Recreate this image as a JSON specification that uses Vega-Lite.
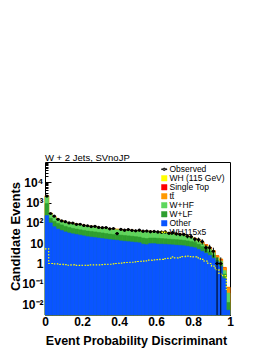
{
"$schema": "https://vega.github.io/schema/vega-lite/v6.json",
"width": 185, "height": 153,
"autosize": "none",
"padding": {"left": 45, "top": 162, "right": 40, "bottom": 34},
"background": "white",
"config": {"view": {"stroke": "black", "strokeWidth": 1}, "font": "Liberation Sans"},
"title": {"text": "W + 2 Jets, SVnoJP", "anchor": "start", "frame": "group", "fontSize": 9.5, "fontWeight": "normal", "baseline": "alphabetic", "offset": 2, "dy": 10, "color": "black", "font": "Liberation Sans"},
"data": {"values": [
{"x0":0,"x1":0.02,"c":0.01,"other":230,"wlf":900,"whf":2068,"tt":2156,"st":2189,"wh":2200,"obs":2100,"lo":2054,"hi":2146,"sig5":5.3},
{"x0":0.02,"x1":0.04,"c":0.03,"other":100,"wlf":170,"whf":282,"tt":294,"st":298.5,"wh":300,"obs":290,"lo":273,"hi":307,"sig5":1.0},
{"x0":0.04,"x1":0.06,"c":0.05,"other":65,"wlf":120,"whf":193,"tt":201,"st":204,"wh":205,"obs":215,"lo":200,"hi":230,"sig5":0.95},
{"x0":0.06,"x1":0.08,"c":0.07,"other":50,"wlf":95,"whf":148,"tt":154,"st":156,"wh":157,"obs":150,"lo":138,"hi":162,"sig5":0.95},
{"x0":0.08,"x1":0.10,"c":0.09,"other":42,"wlf":80,"whf":122,"tt":127,"st":129.4,"wh":130,"obs":125,"lo":114,"hi":136,"sig5":0.9},
{"x0":0.10,"x1":0.12,"c":0.11,"other":36,"wlf":68,"whf":105,"tt":110,"st":111.4,"wh":112,"obs":115,"lo":104,"hi":126,"sig5":0.88},
{"x0":0.12,"x1":0.14,"c":0.13,"other":32,"wlf":60,"whf":98,"tt":102,"st":103.5,"wh":104,"obs":100,"lo":90,"hi":110,"sig5":0.82},
{"x0":0.14,"x1":0.16,"c":0.15,"other":29,"wlf":54,"whf":90,"tt":94,"st":95.5,"wh":96,"obs":98,"lo":88,"hi":108,"sig5":0.85},
{"x0":0.16,"x1":0.18,"c":0.17,"other":27,"wlf":50,"whf":84,"tt":87,"st":88.5,"wh":89,"obs":85,"lo":76,"hi":94,"sig5":0.8},
{"x0":0.18,"x1":0.20,"c":0.19,"other":25,"wlf":46,"whf":78,"tt":81.3,"st":82.6,"wh":83,"obs":86,"lo":77,"hi":95,"sig5":0.8},
{"x0":0.20,"x1":0.22,"c":0.21,"other":23,"wlf":43,"whf":72.4,"tt":75.5,"st":76.6,"wh":77,"obs":75,"lo":66,"hi":84,"sig5":0.82},
{"x0":0.22,"x1":0.24,"c":0.23,"other":21,"wlf":40,"whf":66.7,"tt":69.6,"st":70.6,"wh":71,"obs":72,"lo":63.5,"hi":80.5,"sig5":0.8},
{"x0":0.24,"x1":0.26,"c":0.25,"other":20,"wlf":38,"whf":64.9,"tt":67.6,"st":68.7,"wh":69,"obs":66,"lo":58,"hi":74,"sig5":0.85},
{"x0":0.26,"x1":0.28,"c":0.27,"other":19,"wlf":36,"whf":62,"tt":64.7,"st":65.7,"wh":66,"obs":68,"lo":60,"hi":76,"sig5":0.85},
{"x0":0.28,"x1":0.30,"c":0.29,"other":18,"wlf":34,"whf":57.3,"tt":59.8,"st":60.7,"wh":61,"obs":60,"lo":52.3,"hi":67.7,"sig5":0.85},
{"x0":0.30,"x1":0.32,"c":0.31,"other":17,"wlf":32,"whf":55.5,"tt":57.8,"st":58.7,"wh":59,"obs":58,"lo":50.4,"hi":65.6,"sig5":0.88},
{"x0":0.32,"x1":0.34,"c":0.33,"other":16,"wlf":30,"whf":53.6,"tt":55.9,"st":56.7,"wh":57,"obs":59,"lo":51.3,"hi":66.7,"sig5":0.9},
{"x0":0.34,"x1":0.36,"c":0.35,"other":15,"wlf":28,"whf":48.9,"tt":51,"st":51.7,"wh":52,"obs":51,"lo":43.9,"hi":58.1,"sig5":0.92},
{"x0":0.36,"x1":0.38,"c":0.37,"other":14.5,"wlf":27,"whf":47.9,"tt":50,"st":50.7,"wh":51,"obs":53,"lo":45.7,"hi":60.3,"sig5":0.95},
{"x0":0.38,"x1":0.40,"c":0.39,"other":14,"wlf":26,"whf":46,"tt":48,"st":48.8,"wh":49,"obs":30,"lo":24.5,"hi":35.5,"sig5":1.0},
{"x0":0.40,"x1":0.42,"c":0.41,"other":13,"wlf":25,"whf":44.2,"tt":46,"st":46.8,"wh":47,"obs":48,"lo":41.1,"hi":54.9,"sig5":1.05},
{"x0":0.42,"x1":0.44,"c":0.43,"other":12.5,"wlf":24,"whf":42.3,"tt":44.1,"st":44.8,"wh":45,"obs":44,"lo":37.4,"hi":50.6,"sig5":1.1},
{"x0":0.44,"x1":0.46,"c":0.45,"other":12,"wlf":23,"whf":42.3,"tt":44.1,"st":44.8,"wh":45,"obs":47,"lo":40.1,"hi":53.9,"sig5":1.12},
{"x0":0.46,"x1":0.48,"c":0.47,"other":11.5,"wlf":22,"whf":41.4,"tt":43.1,"st":43.8,"wh":44,"obs":43,"lo":36.4,"hi":49.6,"sig5":1.15},
{"x0":0.48,"x1":0.50,"c":0.49,"other":11,"wlf":21,"whf":39.5,"tt":41.2,"st":41.8,"wh":42,"obs":41,"lo":34.6,"hi":47.4,"sig5":1.2},
{"x0":0.50,"x1":0.52,"c":0.51,"other":10.5,"wlf":20,"whf":39.5,"tt":41.2,"st":41.8,"wh":42,"obs":44,"lo":37.4,"hi":50.6,"sig5":1.25},
{"x0":0.52,"x1":0.54,"c":0.53,"other":9,"wlf":18,"whf":37.6,"tt":39.2,"st":39.8,"wh":40,"obs":39,"lo":32.8,"hi":45.2,"sig5":1.3},
{"x0":0.54,"x1":0.56,"c":0.55,"other":8.5,"wlf":17,"whf":36.7,"tt":38.2,"st":38.8,"wh":39,"obs":40,"lo":33.7,"hi":46.3,"sig5":1.35},
{"x0":0.56,"x1":0.58,"c":0.57,"other":9.5,"wlf":18,"whf":36.7,"tt":38.2,"st":38.8,"wh":39,"obs":37,"lo":30.9,"hi":43.1,"sig5":1.45},
{"x0":0.58,"x1":0.60,"c":0.59,"other":9.5,"wlf":18,"whf":34.8,"tt":36.3,"st":36.8,"wh":37,"obs":38,"lo":31.8,"hi":44.2,"sig5":1.5},
{"x0":0.60,"x1":0.62,"c":0.61,"other":9,"wlf":17.5,"whf":34.8,"tt":36.3,"st":36.8,"wh":37,"obs":36,"lo":30,"hi":42,"sig5":1.55},
{"x0":0.62,"x1":0.64,"c":0.63,"other":9,"wlf":17,"whf":33.8,"tt":35.3,"st":35.8,"wh":36,"obs":35,"lo":29.1,"hi":40.9,"sig5":1.6},
{"x0":0.64,"x1":0.66,"c":0.65,"other":8.8,"wlf":16.5,"whf":32.9,"tt":34.3,"st":34.8,"wh":35,"obs":36,"lo":30,"hi":42,"sig5":1.75},
{"x0":0.66,"x1":0.68,"c":0.67,"other":8.5,"wlf":16,"whf":31,"tt":32.3,"st":32.8,"wh":33,"obs":31,"lo":25.4,"hi":36.6,"sig5":1.8},
{"x0":0.68,"x1":0.70,"c":0.69,"other":8.3,"wlf":15.5,"whf":30.1,"tt":31.4,"st":31.8,"wh":32,"obs":33,"lo":27.3,"hi":38.7,"sig5":2.1},
{"x0":0.70,"x1":0.72,"c":0.71,"other":8,"wlf":15,"whf":28.2,"tt":29.4,"st":29.85,"wh":30,"obs":29,"lo":23.6,"hi":34.4,"sig5":1.9},
{"x0":0.72,"x1":0.74,"c":0.73,"other":7.8,"wlf":14.5,"whf":26.3,"tt":27.4,"st":27.9,"wh":28,"obs":27,"lo":21.8,"hi":32.2,"sig5":2.0},
{"x0":0.74,"x1":0.76,"c":0.75,"other":7.5,"wlf":14,"whf":24.4,"tt":25.5,"st":25.9,"wh":26,"obs":27,"lo":21.8,"hi":32.2,"sig5":2.2},
{"x0":0.76,"x1":0.78,"c":0.77,"other":7,"wlf":13,"whf":21.6,"tt":22.5,"st":22.9,"wh":23,"obs":22,"lo":17.3,"hi":26.7,"sig5":2.3},
{"x0":0.78,"x1":0.80,"c":0.79,"other":6.5,"wlf":12,"whf":19.3,"tt":20.1,"st":20.4,"wh":20.5,"obs":21,"lo":16.4,"hi":25.6,"sig5":2.2},
{"x0":0.80,"x1":0.82,"c":0.81,"other":6,"wlf":11,"whf":15.5,"tt":17,"st":17.3,"wh":17.5,"obs":16,"lo":12,"hi":20,"sig5":2.1},
{"x0":0.82,"x1":0.84,"c":0.83,"other":5,"wlf":9,"whf":12.5,"tt":14.1,"st":14.4,"wh":14.6,"obs":15,"lo":11.1,"hi":18.9,"sig5":1.9},
{"x0":0.84,"x1":0.86,"c":0.85,"other":4,"wlf":6.8,"whf":9.3,"tt":10.8,"st":11.05,"wh":11.2,"obs":12,"lo":8.5,"hi":15.5,"sig5":1.6},
{"x0":0.86,"x1":0.88,"c":0.87,"other":3.2,"wlf":5.2,"whf":7.0,"tt":8.2,"st":8.45,"wh":8.6,"obs":6,"lo":3.6,"hi":8.4,"sig5":1.3},
{"x0":0.88,"x1":0.90,"c":0.89,"other":2.5,"wlf":3.8,"whf":5.0,"tt":6.0,"st":6.25,"wh":6.4,"obs":6,"lo":3.6,"hi":8.4,"sig5":1.0},
{"x0":0.90,"x1":0.92,"c":0.91,"other":1.8,"wlf":2.6,"whf":3.4,"tt":4.1,"st":4.3,"wh":4.4,"obs":4,"lo":2,"hi":6,"sig5":0.75},
{"x0":0.92,"x1":0.94,"c":0.93,"other":1.2,"wlf":1.4,"whf":1.9,"tt":2.3,"st":2.42,"wh":2.5,"obs":1,"lo":0.0029,"hi":2,"sig5":0.5},
{"x0":0.94,"x1":0.96,"c":0.95,"other":0.7,"wlf":0.9,"whf":1.3,"tt":1.55,"st":1.64,"wh":1.7,"obs":1,"lo":0.0029,"hi":2,"sig5":0.3},
{"x0":0.96,"x1":0.98,"c":0.97,"other":0.18,"wlf":0.3,"whf":0.45,"tt":0.6,"st":0.63,"wh":0.66,"obs":null,"lo":null,"hi":null,"sig5":0.25},
{"x0":0.98,"x1":1.0,"c":0.99,"other":0.005,"wlf":0.012,"whf":0.035,"tt":0.065,"st":0.067,"wh":0.069,"obs":null,"lo":null,"hi":null,"sig5":0.05}
]},
"layer": [
{
 "mark": {"type": "bar", "strokeWidth": 0.5},
 "encoding": {
  "x": {"field": "x0", "type": "quantitative",
        "scale": {"domain": [0, 1], "nice": false, "zero": false},
        "axis": {"orient": "bottom", "values": [0, 0.2, 0.4, 0.6, 0.8, 1],
                 "labelExpr": "datum.value == 0 ? '0' : datum.value == 1 ? '1' : format(datum.value, '.1f')",
                 "labelFont": "Liberation Sans", "labelFontWeight": "bold", "labelFontSize": 12, "labelColor": "black",
                 "labelFlush": false, "labelOverlap": false,
                 "tickSize": -6, "tickColor": "black", "labelPadding": 7.5, "domain": false, "grid": false,
                 "title": "Event Probability Discriminant", "titleFont": "Liberation Sans", "titleFontSize": 12.5, "titleFontWeight": "bold", "titleColor": "black",
                 "titleX": 91, "titleY": 29, "titleBaseline": "alphabetic"}},
  "x2": {"field": "x1"},
  "y": {"field": "wh", "type": "quantitative", "stack": null,
        "scale": {"type": "log", "domain": [0.0029, 100000], "nice": false},
        "axis": {"orient": "left", "values": [0.01, 0.1, 1, 10, 100, 1000, 10000],
                 "labelExpr": "datum.value >= 9999 ? '10⁴' : datum.value >= 999 ? '10³' : datum.value >= 99 ? '10²' : datum.value >= 9 ? '10' : datum.value >= 0.9 ? '1' : datum.value >= 0.09 ? '10⁻¹' : '10⁻²'",
                 "labelFont": "Liberation Sans", "labelFontWeight": "bold", "labelFontSize": 12, "labelColor": "black",
                 "labelFlush": false, "labelOverlap": false,
                 "tickSize": -6, "tickColor": "black", "labelPadding": 8, "domain": false, "grid": false,
                 "title": "Candidate Events", "titleFont": "Liberation Sans", "titleFontSize": 13, "titleFontWeight": "bold", "titleColor": "black",
                 "titleX": -26, "titleY": 74, "titleBaseline": "alphabetic"}},
  "y2": {"datum": 0.0029},
  "color": {"datum": "wh", "type": "nominal",
            "scale": {"domain": ["obs","wh","st","tt","whf","wlf","other","sig5"],
                      "range": ["#000000","#ffff00","#ff0000","#ff9900","#5ed65e","#2f9e2f","#0a55ff","#ffff00"]},
            "legend": {"title": null, "orient": "none", "legendX": 115, "legendY": 3,
                       "labelExpr": "{'obs':'Observed','wh':'WH (115 GeV)','st':'Single Top','tt':'tt̄','whf':'W+HF','wlf':'W+LF','other':'Other','sig5':'WH115x5'}[datum.value]",
                       "labelFont": "Liberation Sans", "labelFontSize": 8.5, "labelColor": "black", "labelOffset": 1,
                       "symbolType": {"expr": "datum.value==='obs' ? 'M-1,-0.15H1V0.15H-1Z M-0.5,0A0.5,0.5 0 1,0 0.5,0A0.5,0.5 0 1,0 -0.5,0Z' : datum.value==='sig5' ? 'M-1,0H1' : 'square'"},
                       "symbolSize": 30,
                       "symbolStrokeColor": {"expr": "datum.value==='sig5' ? '#ffff00' : 'black'"},
                       "symbolStrokeWidth": {"expr": "datum.value==='sig5' ? 1.5 : 0.5"},
                       "symbolDash": {"expr": "datum.value==='sig5' ? [1.5,1] : [100,0]"},
                       "rowPadding": -2, "symbolOpacity": 1}},
  "stroke": {"datum": "wh", "type": "nominal", "legend": null,
             "scale": {"domain": ["obs","wh","st","tt","whf","wlf","other","sig5"],
                       "range": ["#000000","#ffff00","#ff0000","#ff9900","#5ed65e","#2f9e2f","#0a55ff","#ffff00"]}}
 }
},
{"mark": {"type": "bar", "strokeWidth": 0.5},
 "encoding": {"x": {"field": "x0", "type": "quantitative", "axis": null}, "x2": {"field": "x1"}, "y": {"field": "st", "type": "quantitative", "stack": null, "axis": null}, "y2": {"datum": 0.0029},
              "color": {"datum": "st", "type": "nominal"}, "stroke": {"datum": "st", "type": "nominal", "legend": null}}},
{"mark": {"type": "bar", "strokeWidth": 0.5},
 "encoding": {"x": {"field": "x0", "type": "quantitative", "axis": null}, "x2": {"field": "x1"}, "y": {"field": "tt", "type": "quantitative", "stack": null, "axis": null}, "y2": {"datum": 0.0029},
              "color": {"datum": "tt", "type": "nominal"}, "stroke": {"datum": "tt", "type": "nominal", "legend": null}}},
{"mark": {"type": "bar", "strokeWidth": 0.5},
 "encoding": {"x": {"field": "x0", "type": "quantitative", "axis": null}, "x2": {"field": "x1"}, "y": {"field": "whf", "type": "quantitative", "stack": null, "axis": null}, "y2": {"datum": 0.0029},
              "color": {"datum": "whf", "type": "nominal"}, "stroke": {"datum": "whf", "type": "nominal", "legend": null}}},
{"mark": {"type": "bar", "strokeWidth": 0.5},
 "encoding": {"x": {"field": "x0", "type": "quantitative", "axis": null}, "x2": {"field": "x1"}, "y": {"field": "wlf", "type": "quantitative", "stack": null, "axis": null}, "y2": {"datum": 0.0029},
              "color": {"datum": "wlf", "type": "nominal"}, "stroke": {"datum": "wlf", "type": "nominal", "legend": null}}},
{"mark": {"type": "bar", "strokeWidth": 0.5},
 "encoding": {"x": {"field": "x0", "type": "quantitative", "axis": null}, "x2": {"field": "x1"}, "y": {"field": "other", "type": "quantitative", "stack": null, "axis": null}, "y2": {"datum": 0.0029},
              "color": {"datum": "other", "type": "nominal"}, "stroke": {"datum": "other", "type": "nominal", "legend": null}}},
{
 "mark": {"type": "line", "interpolate": "step-after", "color": "#ffff00", "strokeWidth": 1.2, "strokeDash": [1.5, 1.5]},
 "encoding": {
  "x": {"field": "x0", "type": "quantitative",
        "axis": {"orient": "bottom", "values": [0.05,0.1,0.15,0.25,0.3,0.35,0.45,0.5,0.55,0.65,0.7,0.75,0.85,0.9,0.95],
                 "labels": false, "domain": false, "grid": false, "tickSize": -3, "tickColor": "black", "title": null}},
  "y": {"field": "sig5", "type": "quantitative",
        "axis": {"orient": "left", "values": [0.003,0.004,0.005,0.006,0.007,0.008,0.009,0.02,0.03,0.04,0.05,0.06,0.07,0.08,0.09,0.2,0.3,0.4,0.5,0.6,0.7,0.8,0.9,2,3,4,5,6,7,8,9,20,30,40,50,60,70,80,90,200,300,400,500,600,700,800,900,2000,3000,4000,5000,6000,7000,8000,9000,20000,30000,40000,50000,60000,70000,80000,90000],
                 "labels": false, "domain": false, "grid": false, "tickSize": -3, "tickColor": "black", "title": null}}
 }
},
{
 "mark": {"type": "rule", "color": "black", "strokeWidth": 1},
 "encoding": {"x": {"field": "c", "type": "quantitative", "axis": null}, "y": {"field": "lo", "type": "quantitative", "axis": null}, "y2": {"field": "hi"}}
},
{
 "mark": {"type": "rule", "color": "black", "strokeWidth": 1},
 "encoding": {"x": {"field": "x0", "type": "quantitative", "axis": null}, "x2": {"field": "x1"}, "y": {"field": "obs", "type": "quantitative", "axis": null}}
},
{
 "mark": {"type": "point", "filled": true, "shape": "circle", "color": "black", "size": 10, "opacity": 1},
 "encoding": {"x": {"field": "c", "type": "quantitative", "axis": null}, "y": {"field": "obs", "type": "quantitative", "axis": null}}
}
],
"resolve": {"axis": {"x": "independent", "y": "independent"}}
}
